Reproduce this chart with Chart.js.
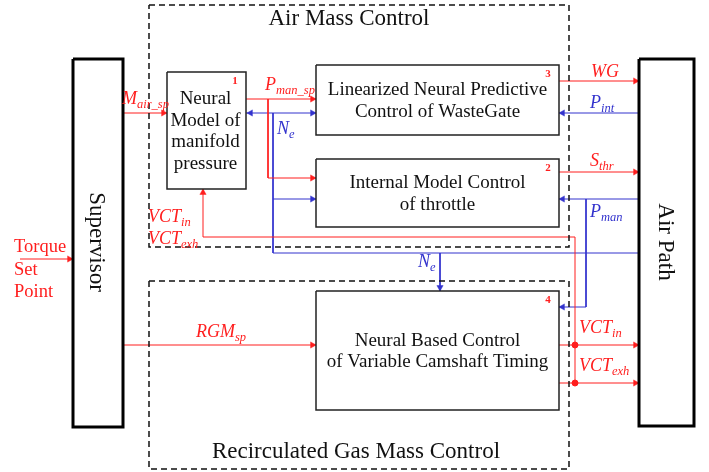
<!DOCTYPE html>
<html>
<head>
<meta charset="utf-8">
<script src="https://cdn.jsdelivr.net/npm/chart.js@4.4.0/dist/chart.umd.min.js"></script>
<style>
  body { margin: 0; background: #fff; }
</style>
</head>
<body>
<canvas id="diagram" width="709" height="472"></canvas>
<script>
// picture units: x 0..709 to the right, y 0..472 downwards
const RED = 'rgb(255,30,30)';
const BLUE = 'rgb(50,50,205)';

const sideBlocks = [[73, 59, 123, 427], [639, 59, 694, 426]];
const sideNames = ['Supervisor', 'Air Path'];

const blocks = [[167, 72, 246, 189], [316, 159, 559, 227], [316, 65, 559, 135], [316, 291, 559, 410]];
const blockNumbers = ['1', '2', '3', '4'];
const blockText = [
  ['Neural', 'Model of', 'manifold', 'pressure'],
  ['Internal Model Control', 'of throttle'],
  ['Linearized Neural Predictive', 'Control of WasteGate'],
  ['Neural Based Control', 'of Variable Camshaft Timing']
];

const groups = [[149, 5, 569, 247], [149, 281, 569, 469]];
const groupNames = ['Air Mass Control', 'Recirculated Gas Mass Control'];

const redWires = [
  [[20, 259], [73, 259]],
  [[123, 113], [167, 113]],
  [[246, 99], [316, 99]],
  [[268, 99], [268, 178], [316, 178]],
  [[559, 81], [639, 81]],
  [[559, 172], [639, 172]],
  [[575, 383], [575, 237], [203, 237], [203, 189]],
  [[123, 345], [316, 345]],
  [[559, 345], [639, 345]],
  [[559, 383], [639, 383]]
];
const blueWires = [
  [[246, 113], [316, 113]],
  [[273, 113], [273, 253], [639, 253]],
  [[273, 199], [316, 199]],
  [[440, 253], [440, 291]],
  [[639, 113], [559, 113]],
  [[639, 199], [559, 199]],
  [[586, 199], [586, 307], [559, 307]]
];
// arrow tips and the way they point
const redArrows = [[73, 259, 'r'], [167, 113, 'r'], [316, 99, 'r'], [316, 178, 'r'], [639, 81, 'r'],
  [639, 172, 'r'], [203, 189, 'u'], [316, 345, 'r'], [639, 345, 'r'], [639, 383, 'r']];
const blueArrows = [[247, 113, 'l'], [316, 113, 'r'], [316, 199, 'r'], [440, 291, 'd'],
  [559, 113, 'l'], [559, 199, 'l'], [559, 307, 'l']];
const junctions = [[575, 345], [575, 383]];

// signal labels: main, subscript, x, baseline
const redSignals = [
  ['M', 'air_sp', 122, 104], ['P', 'man_sp', 265, 90], ['VCT', 'in', 148, 222], ['VCT', 'exh', 148, 244],
  ['WG', '', 591, 77], ['S', 'thr', 590, 166], ['RGM', 'sp', 196, 337],
  ['VCT', 'in', 579, 333], ['VCT', 'exh', 579, 371]
];
const blueSignals = [
  ['N', 'e', 277, 134], ['P', 'int', 590, 108], ['P', 'man', 590, 217], ['N', 'e', 418, 267]
];
const torqueLines = ['Torque', 'Set', 'Point'];

const pts = list => list.map(([x, y]) => ({ x, y }));
const rect = ([x0, y0, x1, y1]) => [[x0, y0], [x1, y0], [x1, y1], [x0, y1], [x0, y0]];

const datasets = [];
groups.forEach(g => datasets.push({ data: pts(rect(g)), borderColor: '#111', borderWidth: 1.5, borderDash: [6, 4] }));
sideBlocks.forEach(b => datasets.push({ data: pts(rect(b)), borderColor: '#000', borderWidth: 3 }));
blocks.forEach(b => datasets.push({ data: pts(rect(b)), borderColor: '#222', borderWidth: 1.5 }));
redWires.forEach(w => datasets.push({ data: pts(w), borderColor: RED, borderWidth: 1 }));
blueWires.forEach(w => datasets.push({ data: pts(w), borderColor: BLUE, borderWidth: 1 }));

const ARROW = 3.6;
const dirs = { r: [1, 0, 90], l: [-1, 0, 270], u: [0, -1, 0], d: [0, 1, 180] };
function arrowSet(list, color) {
  return {
    data: list.map(([x, y, d]) => ({ x: x - dirs[d][0] * ARROW, y: y - dirs[d][1] * ARROW })),
    showLine: false, pointStyle: 'triangle', pointRadius: ARROW,
    pointRotation: list.map(a => dirs[a[2]][2]),
    pointBackgroundColor: color, pointBorderColor: color, pointBorderWidth: 0.5
  };
}
datasets.push(arrowSet(redArrows, RED));
datasets.push(arrowSet(blueArrows, BLUE));
datasets.push({ data: pts(junctions), showLine: false, pointRadius: 3, pointBackgroundColor: RED, pointBorderColor: RED });

datasets.forEach(d => {
  if (d.showLine === undefined) { d.showLine = true; d.pointRadius = 0; }
  d.tension = 0;
});

const SERIF = '"Liberation Serif", "Times New Roman", serif';

function signal(ctx, px, py, [main, sub, x, y], color) {
  ctx.fillStyle = color;
  ctx.textAlign = 'left';
  ctx.font = 'italic 18px ' + SERIF;
  ctx.fillText(main, px(x), py(y));
  const w = ctx.measureText(main).width;
  ctx.font = 'italic 12.5px ' + SERIF;
  ctx.fillText(sub, px(x) + w, py(y + 4));
}

const textPlugin = {
  id: 'diagramText',
  afterDatasetsDraw(chart) {
    const { ctx, scales: { x, y } } = chart;
    const px = v => x.getPixelForValue(v);
    const py = v => y.getPixelForValue(v);
    ctx.save();
    ctx.textBaseline = 'alphabetic';

    // block texts
    ctx.fillStyle = '#111';
    ctx.textAlign = 'center';
    ctx.font = '19px ' + SERIF;
    blocks.forEach((b, i) => {
      const lines = blockText[i];
      const cx = (b[0] + b[2]) / 2 + (i === 0 ? -1 : 0);
      const cy = (b[1] + b[3]) / 2;
      const top = cy - (lines.length - 1) * 21.5 / 2 + 6;
      lines.forEach((t, k) => ctx.fillText(t, px(cx), py(top + k * 21.5)));
    });

    // block numbers
    ctx.fillStyle = RED;
    ctx.font = 'bold 11px ' + SERIF;
    blocks.forEach((b, i) => ctx.fillText(blockNumbers[i], px(b[2] - 11), py(b[1] + 12)));

    // group titles
    ctx.fillStyle = '#111';
    ctx.font = '23px ' + SERIF;
    ctx.fillText(groupNames[0], px(349), py(25));
    ctx.fillText(groupNames[1], px(356), py(458));

    // side blocks, rotated text
    sideBlocks.forEach((b, i) => {
      ctx.save();
      ctx.translate(px((b[0] + b[2]) / 2), py(242));
      ctx.rotate(Math.PI / 2);
      ctx.textAlign = 'center';
      ctx.fillText(sideNames[i], 0, 8);
      ctx.restore();
    });

    // torque set point
    ctx.fillStyle = RED;
    ctx.textAlign = 'left';
    ctx.font = '18.5px ' + SERIF;
    torqueLines.forEach((t, k) => ctx.fillText(t, px(14), py(252 + k * 22.5)));

    redSignals.forEach(s => signal(ctx, px, py, s, RED));
    blueSignals.forEach(s => signal(ctx, px, py, s, BLUE));
    ctx.restore();
  }
};

new Chart(document.getElementById('diagram'), {
  type: 'scatter',
  data: { datasets },
  options: {
    responsive: false,
    animation: false,
    events: [],
    layout: { padding: 0, autoPadding: false },
    plugins: { legend: { display: false }, tooltip: { enabled: false } },
    scales: {
      x: { type: 'linear', min: 0, max: 709, display: false },
      y: { type: 'linear', min: 0, max: 472, reverse: true, display: false }
    }
  },
  plugins: [textPlugin]
});
</script>
</body>
</html>
